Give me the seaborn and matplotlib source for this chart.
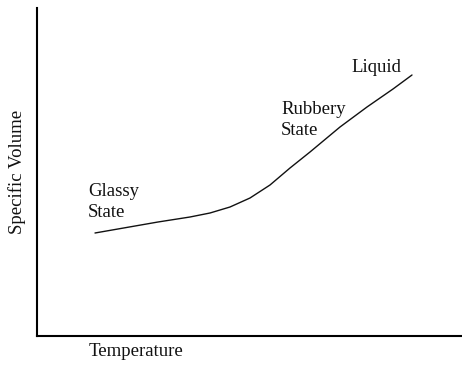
import matplotlib
matplotlib.use("Agg")
import matplotlib.pyplot as plt
import seaborn as sns
import pandas as pd

# Specific volume vs temperature for an amorphous polymer (arbitrary units)
temperature = [58, 121, 153, 173, 193, 213, 233, 253, 273, 303, 330, 356, 375]
specific_volume = [103, 114, 119, 123, 129, 138, 151, 168, 184, 209, 229, 247, 261]

state_labels = ["Glassy\nState", "Rubbery\nState", "Liquid"]
label_x = [51, 244, 314]
label_y = [134, 216, 268]

sns.set_style("white")
plt.rcParams["font.family"] = ["Liberation Serif", "DejaVu Serif"]

fig = plt.figure(figsize=(4.62, 3.65), dpi=100)
ax = fig.add_axes([37 / 462, 29 / 365, 425 / 462, 328 / 365])

df = pd.DataFrame({"Temperature": temperature, "Specific Volume": specific_volume})
sns.lineplot(data=df, x="Temperature", y="Specific Volume", ax=ax,
             color="#111111", linewidth=1.0)

ax.set_xlim(0, 425)
ax.set_ylim(0, 328)
ax.set_xticks([])
ax.set_yticks([])
for side in ["top", "right"]:
    ax.spines[side].set_visible(False)
for side in ["left", "bottom"]:
    ax.spines[side].set_color("black")
    ax.spines[side].set_linewidth(1.5)

for txt, x, y in zip(state_labels, label_x, label_y):
    ax.text(x, y, txt, fontsize=13.5, ha="left", va="center",
            linespacing=1.25, color="#111111")

ax.set_xlabel("")
ax.set_ylabel("Specific Volume", fontsize=13.5, labelpad=8, color="#111111")
fig.text(136 / 462, 1 - 352 / 365, "Temperature", fontsize=13.5,
         ha="center", va="center", color="#111111")

fig.savefig("out.png", dpi=100)
